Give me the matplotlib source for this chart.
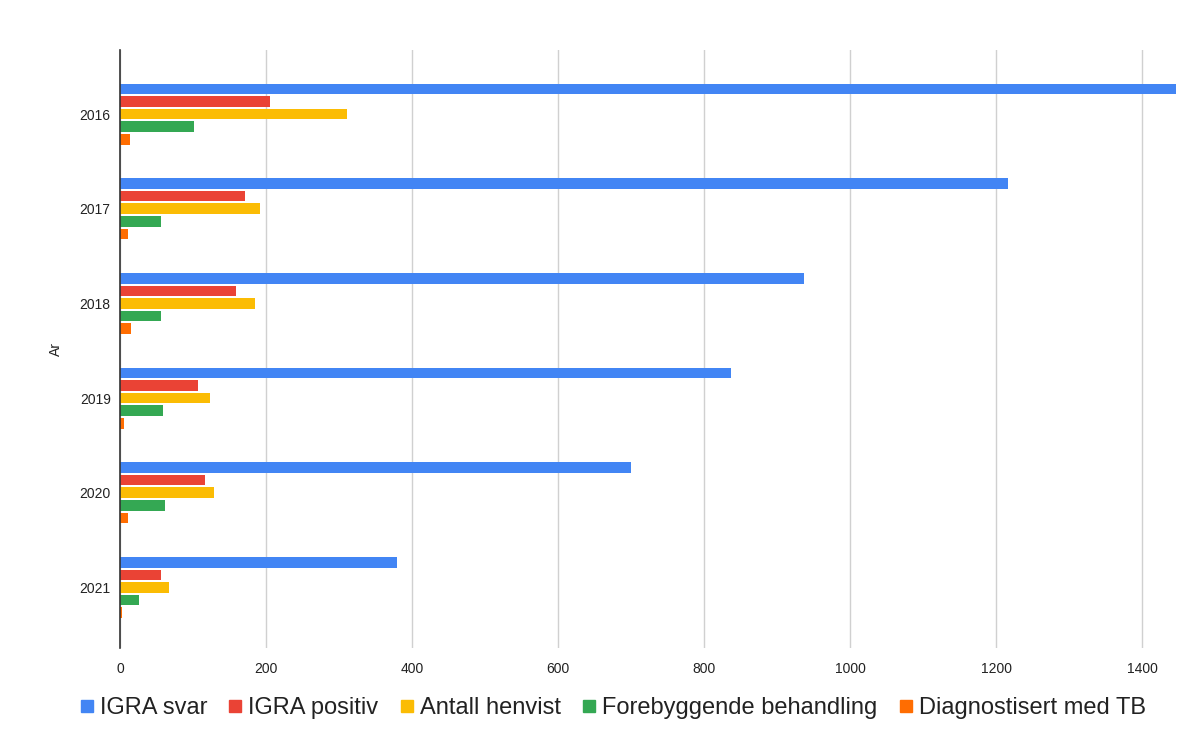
import matplotlib.pyplot as plt
from matplotlib.lines import Line2D
import numpy as np

plt.rcParams['font.family'] = ['Liberation Sans', 'DejaVu Sans']

years = ['2016', '2017', '2018', '2019', '2020', '2021']
series_names = ['IGRA svar', 'IGRA positiv', 'Antall henvist',
                'Forebyggende behandling', 'Diagnostisert med TB']
igra_svar = [1447, 1217, 937, 837, 700, 379]
igra_positiv = [205, 171, 158, 107, 116, 56]
antall_henvist = [310, 192, 184, 123, 128, 67]
forebyggende = [101, 56, 56, 59, 61, 26]
diagnostisert = [13, 11, 15, 5, 10, 2]
colors = ['#4285F4', '#EA4335', '#FBBC04', '#34A853', '#FF6D01']

values = [igra_svar, igra_positiv, antall_henvist, forebyggende, diagnostisert]

fig = plt.figure(figsize=(12, 7.49), dpi=100)
ax = fig.add_axes([0.1003, 0.1348, 0.8818, 0.7984])

y = np.arange(len(years))
step = 0.133
bar_h = 0.112
for i, (vals, col, name) in enumerate(zip(values, colors, series_names)):
    ax.barh(y + (i - 2) * step, vals, height=bar_h, color=col, label=name, zorder=3)

ax.set_xlim(0, 1450)
ax.set_ylim(5.64, -0.676)
ax.set_xticks(range(0, 1401, 200))
ax.set_yticks(y)
ax.set_yticklabels(years)
ax.tick_params(length=0, labelsize=10, colors='#222222')
ax.tick_params(axis='x', pad=10)
ax.tick_params(axis='y', pad=7)
ax.grid(axis='x', color='#d0d0d0', linewidth=1, zorder=0)

for s in ['top', 'right', 'bottom']:
    ax.spines[s].set_visible(False)
ax.spines['left'].set_color('#333333')
ax.spines['left'].set_linewidth(1.2)
ax.spines['left'].set_zorder(4)

ax.set_ylabel('Ar', fontsize=10, color='#222222', labelpad=12)

handles = [Line2D([], [], marker='s', linestyle='none', markersize=9,
                  markerfacecolor=c, markeredgecolor=c) for c in colors]
fig.legend(handles, series_names, loc='center', bbox_to_anchor=(0.509, 0.055),
           ncol=5, frameon=False, fontsize=17, handletextpad=0.1,
           columnspacing=0.75, handlelength=0.9, labelcolor='#222222')

fig.savefig('out.png', dpi=100)
